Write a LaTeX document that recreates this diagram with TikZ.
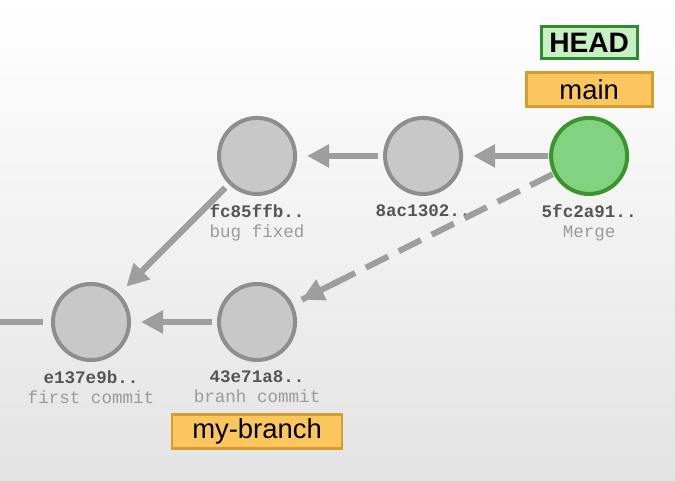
\documentclass[tikz,border=0pt]{standalone}
\usepackage{fontspec}
\setmainfont{Liberation Sans}
\setmonofont{Liberation Mono}
\usetikzlibrary{arrows.meta,positioning}

\definecolor{commitfill}{HTML}{C8C8C8}
\definecolor{commitline}{HTML}{8E8E8E}
\definecolor{linkgray}{HTML}{9E9E9E}
\definecolor{headfill}{HTML}{C9F0C4}
\definecolor{headline}{HTML}{2E8B2E}
\definecolor{mergefill}{HTML}{82D282}
\definecolor{mergeline}{HTML}{3A952A}
\definecolor{branchfill}{HTML}{FCC65E}
\definecolor{branchline}{HTML}{D49E2E}
\definecolor{hashgray}{HTML}{555555}
\definecolor{msggray}{HTML}{9A9A9A}

\begin{document}
\begin{tikzpicture}[x=0.025cm, y=0.025cm, node distance={4.15cm},
  commit/.style = {draw=commitline, fill=commitfill, circle, line width=2.85pt, minimum size=1.9cm, inner sep=0pt},
  info/.style = {align=center, inner sep=0pt, font=\ttfamily\fontsize{12.5pt}{14.5pt}\selectfont},
  ref/.style = {draw=branchline, fill=branchfill, line width=2pt, inner sep=0pt, minimum height=0.85cm, font=\fontsize{19.5pt}{22pt}\selectfont},
  link/.style = {draw=linkgray, line width=4.3pt, shorten <=0.12cm, shorten >=0.25cm, -{Triangle[length=0.55cm, width=0.55cm]}}]

% background
\shade[top color=white, middle color=white, bottom color=black!11] (0,0) rectangle (675,480);
\useasboundingbox (0,0) rectangle (675,480);

% commits
\node[commit] (e137) at (91,158) {};
\node[commit] (43e7) [right of=e137] {};
\node[commit] (fc85) [above of=43e7] {};
\node[commit] (8ac1) [right of=fc85] {};
\node[commit, draw=mergeline, fill=mergefill] (5fc2) [right of=8ac1] {};
\coordinate (root) at (0,158);

% hashes and messages
\node[info, below=0.2cm of e137] (e137info) {\textcolor{hashgray}{\textbf{e137e9b..}}\\\textcolor{msggray}{first commit}};
\node[info, below=0.2cm of 43e7] (43e7info) {\textcolor{hashgray}{\textbf{43e71a8..}}\\\textcolor{msggray}{branh commit}};
\node[info, below=0.2cm of fc85] (fc85info) {\textcolor{hashgray}{\textbf{fc85ffb..}}\\\textcolor{msggray}{bug fixed}};
\node[info, below=0.2cm of 8ac1] (8ac1info) {\textcolor{hashgray}{\textbf{8ac1302..}}};
\node[info, below=0.2cm of 5fc2] (5fc2info) {\textcolor{hashgray}{\textbf{5fc2a91..}}\\\textcolor{msggray}{Merge}};

% refs
\node[ref, minimum width=3.15cm, above=0.2cm of 5fc2] (main) {main};
\node[ref, draw=headline, fill=headfill, minimum width=2.4cm, minimum height=0.8cm, above=0.28cm of main, font=\bfseries\fontsize{20pt}{22pt}\selectfont] (head) {HEAD};
\node[ref, minimum width=4.25cm, below=0.25cm of 43e7info] (mybranch) {my-branch};

% history
\draw[link] (8ac1) -- (fc85);
\draw[link, shorten <=0.02cm] (5fc2) -- (8ac1);
\draw[link] (fc85) -- (e137);
\draw[link] (43e7) -- (e137);
% merge parent: dashed line, solid tip
\draw[link, -, shorten <=0.02cm, dash pattern=on 0.62cm off 0.3cm] (5fc2) -- (43e7);
\draw[link, shorten <=6cm] (5fc2) -- (43e7);
\draw[draw=linkgray, line width=4.3pt, shorten <=0.2cm] (e137) -- (root);
\end{tikzpicture}
\end{document}
